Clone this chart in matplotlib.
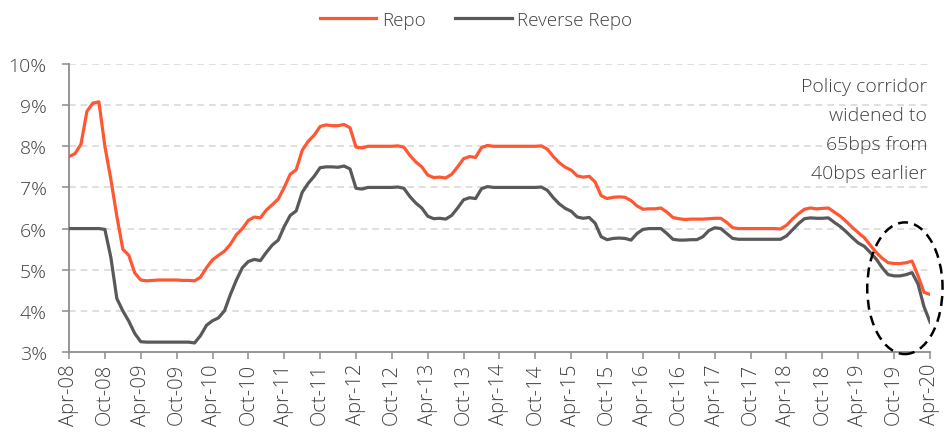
import matplotlib
matplotlib.use("Agg")
import matplotlib.pyplot as plt
from matplotlib.patches import Ellipse
import numpy as np

# Monthly data, Apr-2008 .. Apr-2020 (145 points)
repo = [
    7.75, 7.82, 8.05, 8.85, 9.05, 9.08, 8.00, 7.20, 6.30, 5.50, 5.35, 4.92,
    4.75, 4.73, 4.74, 4.75, 4.75, 4.75, 4.75, 4.74, 4.74, 4.73, 4.82, 5.05,
    5.24, 5.35, 5.45, 5.62, 5.85, 6.00, 6.20, 6.28, 6.26, 6.45, 6.58, 6.72,
    7.00, 7.32, 7.43, 7.90, 8.12, 8.27, 8.48, 8.52, 8.50, 8.50, 8.53, 8.45,
    7.98, 7.96, 8.00, 8.00, 8.00, 8.00, 8.00, 8.01, 7.98, 7.78, 7.62, 7.50,
    7.30, 7.24, 7.25, 7.23, 7.32, 7.50, 7.70, 7.75, 7.73, 7.97, 8.02, 8.00,
    8.00, 8.00, 8.00, 8.00, 8.00, 8.00, 8.00, 8.01, 7.93, 7.75, 7.60, 7.49,
    7.42, 7.28, 7.25, 7.27, 7.13, 6.80, 6.73, 6.76, 6.77, 6.76, 6.68, 6.55,
    6.47, 6.48, 6.48, 6.50, 6.40, 6.27, 6.24, 6.22, 6.23, 6.23, 6.23, 6.24,
    6.25, 6.25, 6.15, 6.02, 6.00, 6.00, 6.00, 6.00, 6.00, 6.00, 6.00, 5.99,
    6.08, 6.23, 6.36, 6.47, 6.50, 6.48, 6.49, 6.50, 6.40, 6.30, 6.17, 6.03,
    5.90, 5.78, 5.60, 5.42, 5.28, 5.17, 5.15, 5.15, 5.17, 5.21, 4.85, 4.45,
    4.40,
]

reverse_repo = [
    6.00, 6.00, 6.00, 6.00, 6.00, 6.00, 5.98, 5.30, 4.30, 4.00, 3.75, 3.45,
    3.25, 3.24, 3.24, 3.24, 3.24, 3.24, 3.24, 3.24, 3.24, 3.22, 3.40, 3.65,
    3.76, 3.83, 4.00, 4.40, 4.75, 5.05, 5.20, 5.25, 5.22, 5.42, 5.60, 5.72,
    6.05, 6.32, 6.43, 6.88, 7.10, 7.27, 7.48, 7.50, 7.50, 7.49, 7.52, 7.45,
    6.98, 6.96, 7.00, 7.00, 7.00, 7.00, 7.00, 7.01, 6.98, 6.78, 6.62, 6.50,
    6.30, 6.24, 6.25, 6.23, 6.32, 6.50, 6.70, 6.75, 6.73, 6.97, 7.02, 7.00,
    7.00, 7.00, 7.00, 7.00, 7.00, 7.00, 7.00, 7.01, 6.93, 6.75, 6.60, 6.49,
    6.42, 6.28, 6.25, 6.27, 6.13, 5.80, 5.73, 5.76, 5.77, 5.76, 5.72, 5.88,
    5.98, 6.00, 6.00, 6.00, 5.88, 5.74, 5.72, 5.72, 5.73, 5.73, 5.80, 5.95,
    6.02, 6.00, 5.88, 5.76, 5.74, 5.74, 5.74, 5.74, 5.74, 5.74, 5.74, 5.74,
    5.82, 5.97, 6.12, 6.24, 6.26, 6.25, 6.25, 6.26, 6.15, 6.05, 5.92, 5.78,
    5.65, 5.57, 5.42, 5.26, 5.05, 4.88, 4.85, 4.85, 4.88, 4.93, 4.65, 4.10,
    3.73,
]

tick_labels = [f"{m}-{y:02d}" for y in range(8, 21) for m in ("Apr", "Oct")][:-1]
y_ticks = [3, 4, 5, 6, 7, 8, 9, 10]
annotation = "Policy corridor\nwidened to\n65bps from\n40bps earlier"

ORANGE = "#FF5733"
GREY = "#595959"
TXT = "#404040"
FONT = ["Open Sans", "DejaVu Sans"]

plt.rcParams["font.family"] = FONT
plt.rcParams["font.weight"] = "light"

fig = plt.figure(figsize=(9.52, 4.39), dpi=100)
ax = fig.add_axes([69 / 952, 1 - 353 / 439, (930 - 69) / 952, (353 - 65) / 439])

x = np.arange(len(repo))
ax.plot(x, repo, color=ORANGE, lw=2.3, label="Repo", solid_joinstyle="round", zorder=3)
ax.plot(x, reverse_repo, color=GREY, lw=2.3, label="Reverse Repo", solid_joinstyle="round", zorder=3)

ax.set_xlim(0, len(repo) - 1)
ax.set_ylim(3, 10)
ax.set_yticks(y_ticks)
ax.set_yticklabels([f"{v}%" for v in y_ticks], fontsize=14, color=TXT, fontweight="light")
ax.set_xticks(np.arange(0, len(repo), 6))
ax.set_xticklabels(tick_labels, rotation=90, fontsize=14.5, color=TXT, fontweight="light")

for v in y_ticks[1:]:
    ax.axhline(v, color="#d9d9d9", lw=1.2, ls=(0, (4, 3)), zorder=1)

for s in ("top", "right"):
    ax.spines[s].set_visible(False)
for s in ("left", "bottom"):
    ax.spines[s].set_color("#8c8c8c")
    ax.spines[s].set_linewidth(1.3)
ax.tick_params(axis="both", direction="out", length=5, width=1.1, color="#8c8c8c")
ax.tick_params(axis="x", pad=3)
ax.tick_params(axis="y", pad=11)

ell = Ellipse((139.8, 4.55), width=12.6, height=3.2, fill=False, edgecolor="black",
              lw=1.8, ls=(0, (4, 2.5)), zorder=4, clip_on=False)
ax.add_patch(ell)

ax.text(143.5, 9.68, annotation, ha="right", va="top", fontsize=14, color=TXT,
        linespacing=1.78, fontweight="light")

leg = fig.legend(loc="upper center", bbox_to_anchor=(0.5, 1.012), ncol=2, frameon=False,
                 handlelength=3.0, columnspacing=1.6, handletextpad=0.3,
                 prop={"family": FONT, "weight": "light", "size": 13.5})
for t in leg.get_texts():
    t.set_color(TXT)

fig.savefig("out.png", dpi=100)
